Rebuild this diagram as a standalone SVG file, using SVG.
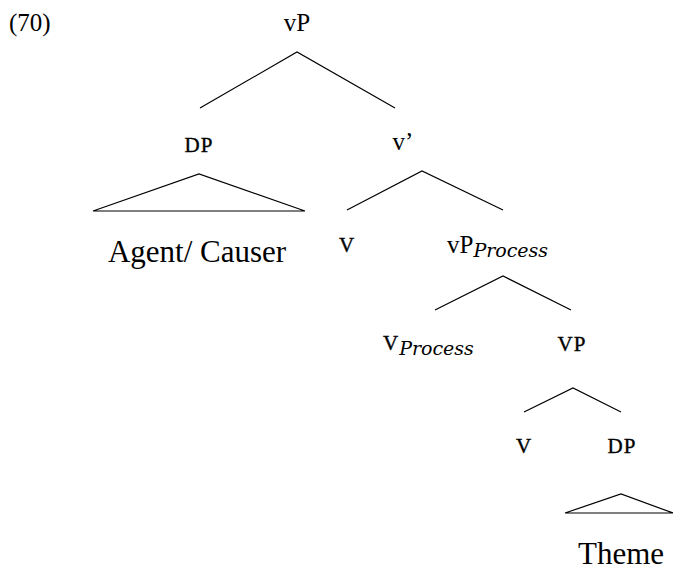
<svg xmlns="http://www.w3.org/2000/svg" width="673" height="570" viewBox="0 0 673 570">
  <style>
    text { font-family: "Liberation Serif", "DejaVu Serif", serif; fill: #000; }
    .lab { font-size: 25px; text-anchor: middle; }
    .big { font-size: 31px; text-anchor: middle; }
    .sc { font-size: 21px; text-anchor: middle; stroke: #000; stroke-width: 0.35; letter-spacing: 1px; }
    .sub { font-family: "DejaVu Serif", serif; font-style: italic; font-size: 19px; stroke: none; }
    .edge { stroke: #000; stroke-width: 1.2; fill: none; }
  </style>
  <rect width="673" height="570" fill="#fff"/>

  <text x="9" y="31" style="font-size:25px">(70)</text>

  <g id="n-vP"><text class="lab" x="297" y="31">vP</text></g>
  <g id="n-DP1"><text class="sc" x="199" y="152">DP</text></g>
  <g id="n-vbar"><text class="lab" x="403" y="150">v’</text></g>
  <g id="n-agent"><text class="big" x="197" y="262">Agent/ Causer</text></g>
  <g id="n-v"><text class="sc" x="347" y="252">V</text></g>
  <g id="n-vPproc"><text x="447" y="253" style="font-size:25px">vP<tspan class="sub" dy="4">Process</tspan></text></g>
  <g id="n-vproc"><text x="383" y="350" style="font-size:21px; stroke:#000; stroke-width:0.35">V<tspan class="sub" dx="1" dy="5">Process</tspan></text></g>
  <g id="n-VP"><text class="sc" x="572" y="351">VP</text></g>
  <g id="n-V"><text class="sc" x="524" y="453">V</text></g>
  <g id="n-DP2"><text class="sc" x="622" y="453">DP</text></g>
  <g id="n-theme"><text class="big" x="621" y="564">Theme</text></g>

  <g id="connectors">
    <polyline class="edge" points="200,108 297,52 395,108"/>
    <polygon class="edge" points="93,211 199,174 305,211"/>
    <polyline class="edge" points="347,210 422,171 503,210"/>
    <polyline class="edge" points="435,310 503,276 571,310"/>
    <polyline class="edge" points="524,412 573,388 621,412"/>
    <polygon class="edge" points="565,513 621,494 673,513"/>
  </g>
</svg>
